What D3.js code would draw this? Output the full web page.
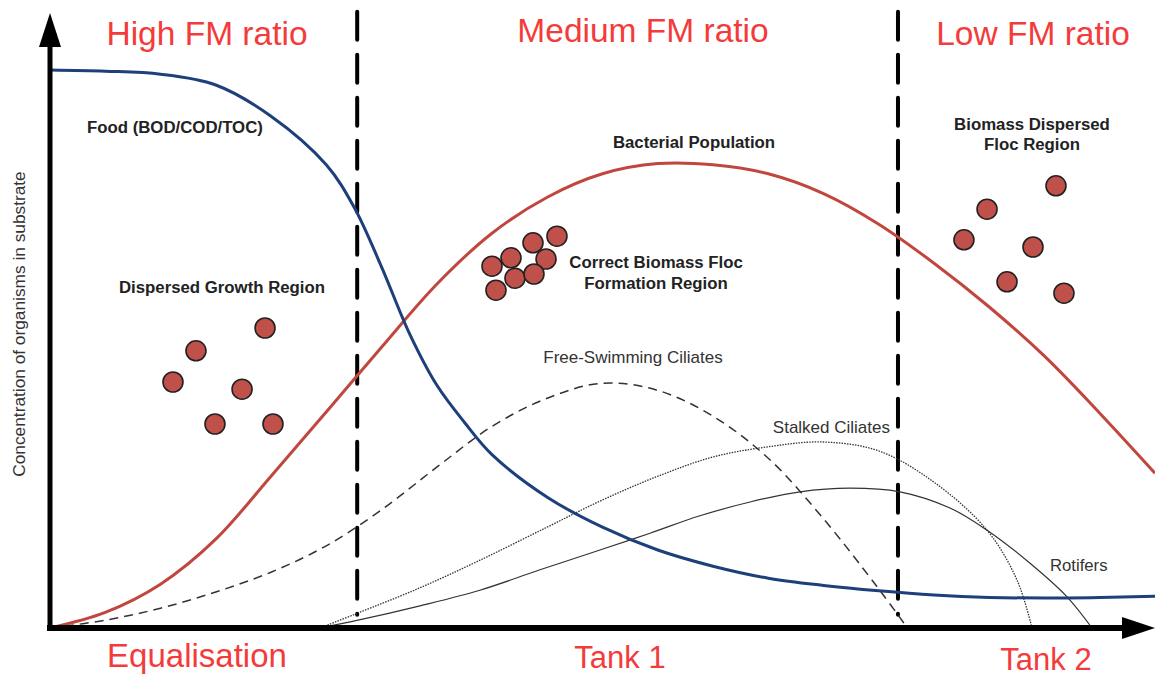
<!DOCTYPE html>
<html><head><meta charset="utf-8">
<script src="https://cdn.jsdelivr.net/npm/d3@7"></script>
<style>
html,body{margin:0;padding:0;background:#fff;}
svg{display:block;font-family:"Liberation Sans",Arial,Helvetica,sans-serif;}
</style></head>
<body>
<svg id="chart" width="1155" height="677"></svg>
<script>
// ---- data (x: process position 0-100, y: relative concentration 0-100) ----
const foodX = [0,5,10,15,20,25,27.5,30,32.5,35,37.5,40,45,50,55,60,65,70,75,80,85,90,95,100];
const foodY = [93.0,92.8,92.3,90.5,85.3,77.2,70.2,60.2,49.2,40.5,34.3,28.9,21.8,16.8,13.0,10.3,8.3,7.1,6.2,5.5,5.1,5.0,5.1,5.3];

const bacteriaX = [0,5,10,15,20,25,30,35,40,45,50,55,60,65,70,75,80,85,90,95,100];
const bacteriaY = [0,2.6,7.3,14.8,25.3,36.0,46.8,57.3,65.8,71.8,75.7,77.4,77.2,75.7,72.4,67.3,60.8,53.5,45.3,35.8,25.8];

const freeSwimX = [0,5,10,15,20,25,30,35,40,45,50,55,60,65,70,75,77.6];
const freeSwimY = [0,1.3,3.3,6.0,9.3,13.7,19.7,26.8,33.6,38.3,40.8,39.6,35.3,28.3,18.2,6.5,0];

const stalkedX = [24.43,27.87,33.48,38.91,44.98,49.95,55.02,60.0,64.98,69.95,75.02,80.0,84.8,87.51,88.87];
const stalkedY = [0,2.5,6.7,11.3,16.8,21.3,25.3,28.5,30.2,31.0,29.5,24.3,16.3,8.0,0];

const rotiferX = [24.43,27.87,33.48,38.91,44.34,49.77,54.3,58.82,63.35,67.87,72.4,76.92,81.45,84.8,88.69,92.04,94.3];
const rotiferY = [0,1.3,3.7,6.3,9.7,13.0,15.8,18.7,21.0,22.7,23.3,22.7,20.0,16.3,10.8,5.2,0];

// flocs (organism clusters)
const dispersedGrowthX = [13.21,19.46,11.13,17.38,14.93,20.18];
const dispersedGrowthY = [46.2,50.0,41.0,39.8,34.0,34.0];
const correctFlocX = [40.0,41.72,43.71,45.88,44.89,42.08,43.8,40.36];
const correctFlocY = [60.3,61.7,64.2,65.3,61.5,58.3,59.0,56.3];
const dispersedFlocX = [91.04,84.8,82.71,88.96,86.61,91.76];
const dispersedFlocY = [73.7,69.8,64.7,63.5,57.7,55.8];

const dividerX = [27.8,76.74];
const zoneLabels = ["High FM ratio","Medium FM ratio","Low FM ratio"];
const stageLabels = ["Equalisation","Tank 1","Tank 2"];
const yAxisLabel = "Concentration of organisms in substrate";

// ---- drawing ----
const svg = d3.select("#chart");
const x = d3.scaleLinear().domain([0,100]).range([50,1155]);
const y = d3.scaleLinear().domain([0,100]).range([628,28]);

const zip = (xs, ys) => xs.map((v,i)=>[v, ys[i]]);
const line = d3.line().x(d=>x(d[0])).y(d=>Math.min(y(0), y(d[1]))).curve(d3.curveCatmullRom.alpha(0.5));

// vertical zone dividers
svg.selectAll("line.div").data(dividerX).enter().append("line")
  .attr("class","div")
  .attr("x1",d=>x(d)).attr("x2",d=>x(d))
  .attr("y1",y(102.7)).attr("y2",y(2.2))
  .attr("stroke","#000").attr("stroke-width",4)
  .attr("stroke-dasharray","28,15").attr("stroke-linecap","round");

// organism curves
svg.append("path").datum(zip(freeSwimX,freeSwimY)).attr("d",line)
  .attr("fill","none").attr("stroke","#333").attr("stroke-width",1.5).attr("stroke-dasharray","9,6");
svg.append("path").datum(zip(stalkedX,stalkedY)).attr("d",line)
  .attr("fill","none").attr("stroke","#333").attr("stroke-width",1.3).attr("stroke-dasharray","1.5,1.2");
svg.append("path").datum(zip(rotiferX,rotiferY)).attr("d",line)
  .attr("fill","none").attr("stroke","#333").attr("stroke-width",1.2);

// food & bacteria
svg.append("path").datum(zip(bacteriaX,bacteriaY)).attr("d",line)
  .attr("fill","none").attr("stroke","#c0463e").attr("stroke-width",3);
svg.append("path").datum(zip(foodX,foodY)).attr("d",line)
  .attr("fill","none").attr("stroke","#1d3f7a").attr("stroke-width",3);

// flocs
function flocs(xs, ys){
  svg.append("g").selectAll("circle").data(zip(xs,ys)).enter().append("circle")
    .attr("cx",d=>x(d[0])).attr("cy",d=>y(d[1])).attr("r",10)
    .attr("fill","#c0504a").attr("stroke","#222").attr("stroke-width",1.6);
}
flocs(dispersedGrowthX,dispersedGrowthY);
flocs(correctFlocX,correctFlocY);
flocs(dispersedFlocX,dispersedFlocY);

// axes with arrowheads
const x0 = x.range()[0], xEnd = x.range()[1];
const y0 = y.range()[0];
svg.append("line").attr("x1",x0).attr("x2",x0).attr("y1",y0+2).attr("y2",46)
  .attr("stroke","#000").attr("stroke-width",5);
svg.append("path").attr("d",`M${x0-11},47 L${x0},13 L${x0+11},47 Z`).attr("fill","#000");
svg.append("line").attr("x1",x0-3).attr("x2",xEnd-32).attr("y1",y0).attr("y2",y0)
  .attr("stroke","#000").attr("stroke-width",6);
svg.append("path").attr("d",`M${xEnd-33},${y0-11} L${xEnd},${y0} L${xEnd-33},${y0+11} Z`).attr("fill","#000");

// zone and stage labels
const red = "#f43b3b";
const zonePos = [[207,45],[643,42],[1033,45]];
zoneLabels.forEach((t,i)=>svg.append("text").text(t)
  .attr("x",zonePos[i][0]).attr("y",zonePos[i][1]).attr("text-anchor","middle")
  .attr("font-size",33.5).attr("fill",red));
const stagePos = [[197,667],[620,668],[1046,670]];
stageLabels.forEach((t,i)=>svg.append("text").text(t)
  .attr("x",stagePos[i][0]).attr("y",stagePos[i][1]).attr("text-anchor","middle")
  .attr("font-size",i===0?33:31).attr("fill",red));

// annotations
function label(t, px, py, opts={}){
  svg.append("text").text(t).attr("x",px).attr("y",py)
    .attr("text-anchor",opts.anchor||"start")
    .attr("font-size",opts.size||16)
    .attr("font-weight",opts.bold?"bold":"normal")
    .attr("fill",opts.fill||"#222");
}
const bs = 16.8;
label("Food (BOD/COD/TOC)",87,133,{bold:true,size:bs});
label("Bacterial Population",694,148,{bold:true,anchor:"middle",size:bs});
label("Dispersed Growth Region",222,293,{bold:true,anchor:"middle",size:bs});
label("Correct Biomass Floc",656,268,{bold:true,anchor:"middle",size:bs});
label("Formation Region",656,289,{bold:true,anchor:"middle",size:bs});
label("Biomass Dispersed",1032,130,{bold:true,anchor:"middle",size:bs});
label("Floc Region",1032,150,{bold:true,anchor:"middle",size:bs});
label("Free-Swimming Ciliates",633,363,{anchor:"middle",size:17,fill:"#333"});
label("Stalked Ciliates",890,433,{anchor:"end",size:17,fill:"#333"});
label("Rotifers",1050,571,{size:16.7,fill:"#333"});

svg.append("text").text(yAxisLabel)
  .attr("transform","translate(25,324) rotate(-90)")
  .attr("text-anchor","middle").attr("font-size",17.3).attr("fill","#333");
</script>
</body></html>
